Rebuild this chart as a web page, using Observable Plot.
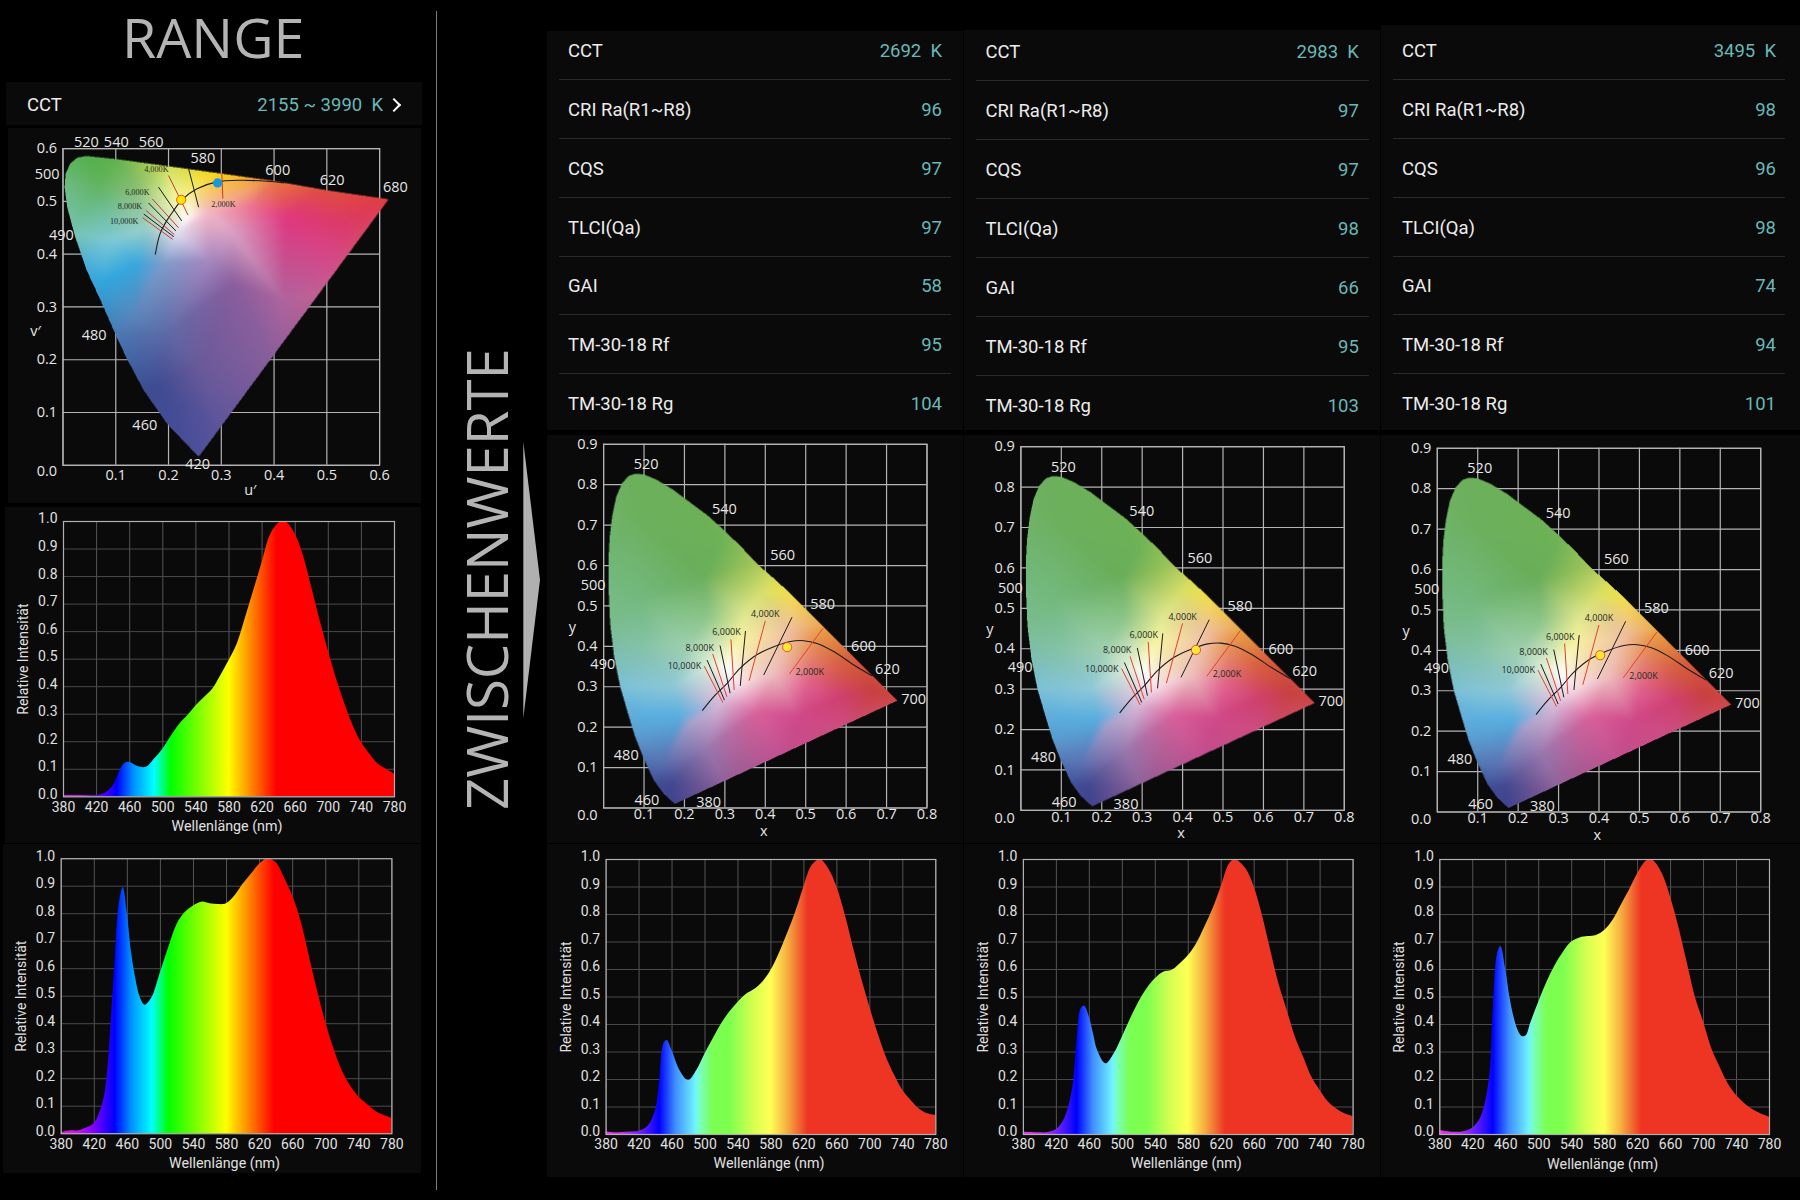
<!DOCTYPE html>
<html><head><meta charset="utf-8">
<script src="https://cdn.jsdelivr.net/npm/d3@7"></script>
<script src="https://cdn.jsdelivr.net/npm/@observablehq/plot@0.6"></script>
<style>
html,body{margin:0;padding:0;background:#000;}
#page{position:relative;width:1800px;height:1200px;overflow:hidden;background:#000;font-family:Roboto,sans-serif;}
.panel{position:absolute;background:#0a0a0a;}
.abs{position:absolute;white-space:pre;line-height:1.2;}
.lab{color:#ececec;font-size:18.5px;transform:translateY(-50%);}
.val{color:#69b7b7;font-size:18.5px;transform:translateY(-50%);text-align:right;}
.sep{position:absolute;height:1px;background:#2a2a2a;}
.head{color:#b4b4b4;font-family:"Open Sans",sans-serif;font-weight:400;}
svg{overflow:visible;}
</style></head><body><div id="page"></div>
<script>
// ---------- table data
const rowLabels=["CCT","CRI Ra(R1~R8)","CQS","TLCI(Qa)","GAI","TM-30-18 Rf","TM-30-18 Rg"];
const col1Values=["2692  K","96","97","97","58","95","104"];
const col2Values=["2983  K","97","97","98","66","95","103"];
const col3Values=["3495  K","98","96","98","74","94","101"];
const rangeLabel="CCT", rangeValue="2155 ~ 3990  K";

// ---------- spectra [nm, relative intensity]
const specRange1=[[380,.005],[400,.005],[420,.005],[430,.012],[440,.04],[450,.105],[455,.123],[460,.125],[470,.11],[480,.107],[490,.137],[500,.173],[510,.219],[520,.262],[530,.294],[540,.33],[550,.36],[560,.39],[570,.44],[580,.494],[590,.555],[600,.65],[610,.75],[620,.85],[630,.95],[640,.994],[645,1],[650,.996],[660,.954],[670,.875],[680,.76],[690,.64],[700,.53],[710,.427],[720,.337],[730,.258],[740,.197],[750,.155],[760,.119],[770,.10],[780,.082]];
const specRange2=[[380,.004],[390,.01],[400,.01],[410,.02],[420,.036],[430,.107],[435,.19],[440,.385],[445,.62],[450,.83],[455,.895],[460,.80],[465,.66],[470,.567],[475,.50],[480,.47],[482,.467],[490,.495],[500,.585],[510,.676],[520,.76],[530,.804],[540,.828],[550,.842],[560,.836],[570,.833],[580,.836],[590,.864],[600,.907],[610,.943],[620,.98],[630,1],[640,.985],[650,.93],[660,.864],[670,.773],[680,.646],[690,.519],[700,.404],[710,.307],[720,.228],[730,.173],[740,.133],[750,.107],[760,.082],[770,.067],[780,.056]];
const specCol1=[[380,.01],[390,.006],[400,.007],[410,.009],[420,.012],[430,.027],[440,.087],[445,.196],[450,.33],[454,.342],[460,.305],[470,.23],[480,.196],[490,.233],[500,.293],[510,.348],[520,.402],[530,.445],[540,.48],[550,.509],[560,.527],[570,.554],[580,.596],[590,.657],[600,.73],[610,.808],[620,.9],[630,.978],[640,.999],[650,.966],[660,.9],[670,.80],[680,.68],[690,.566],[700,.463],[710,.366],[720,.281],[730,.215],[740,.16],[750,.124],[760,.093],[770,.075],[780,.069]];
const specCol2=[[380,.008],[390,.007],[400,.006],[410,.007],[420,.017],[430,.057],[440,.172],[445,.34],[450,.457],[454,.467],[460,.427],[465,.366],[470,.305],[480,.257],[490,.293],[500,.354],[510,.42],[520,.481],[530,.53],[540,.566],[550,.59],[560,.596],[570,.62],[580,.65],[590,.693],[600,.754],[610,.82],[620,.90],[630,.984],[637,1],[640,.996],[650,.966],[660,.90],[670,.796],[680,.67],[690,.548],[700,.451],[710,.354],[720,.281],[730,.208],[740,.16],[750,.118],[760,.093],[770,.075],[780,.065]];
const specCol3=[[380,.015],[390,.01],[400,.008],[410,.011],[420,.024],[430,.063],[440,.196],[445,.463],[450,.657],[454,.684],[460,.60],[465,.50],[470,.427],[475,.378],[480,.356],[485,.36],[490,.402],[500,.481],[510,.554],[520,.615],[530,.663],[540,.70],[550,.715],[560,.72],[570,.724],[580,.742],[590,.778],[600,.833],[610,.888],[620,.948],[630,.993],[635,1],[640,.994],[650,.948],[660,.863],[670,.754],[680,.627],[690,.50],[700,.409],[710,.312],[720,.245],[730,.184],[740,.142],[750,.112],[760,.09],[770,.075],[780,.063]];
const nmTicks=[380,420,460,500,540,580,620,660,700,740,780];
const intensityTicks=[0,.1,.2,.3,.4,.5,.6,.7,.8,.9,1];
const vividStops=[[380,"#f010f0"],[400,"#d010f0"],[420,"#8000ff"],[432,"#4000ff"],[445,"#0000ff"],[465,"#0090ff"],[490,"#00ffff"],[510,"#00ff00"],[580,"#ffff00"],[638,"#ff0000"],[780,"#ff0000"]];
const softStops=[[380,"#f030f0"],[400,"#d030f0"],[420,"#7a20ff"],[435,"#3010ff"],[445,"#0000ff"],[465,"#4090ff"],[489,"#70f5ff"],[494,"#78ffc0"],[510,"#7bff50"],[530,"#7cff4f"],[560,"#d8ff50"],[580,"#ffff55"],[600,"#f5b040"],[625,"#ee3524"],[780,"#ee3524"]];

// ---------- CIE 1976 u'v'
const uvGamut=[[.257,.016],[.197,.079],[.153,.142],[.121,.202],[.099,.249],[.071,.313],[.045,.369],[.023,.433],[.008,.489],[.003,.527],[.005,.553],[.014,.572],[.027,.583],[.044,.586],[.102,.580],[.197,.567],[.298,.553],[.399,.539],[.500,.521],[.617,.504]];
const uvColors=[
 [.257,.0,"#4b4f9c"],[.15,.14,"#3c4f90"],[.095,.25,"#4a7ab4"],[.04,.369,"#42aadc"],[.015,.44,"#74c4b4"],[-.005,.527,"#6fbc8a"],[.005,.58,"#5cb55e"],[.044,.6,"#4fae48"],[.102,.59,"#5fb248"],[.197,.58,"#c8dc50"],[.298,.565,"#fcd000"],[.399,.55,"#ec8030"],[.5,.53,"#e0503a"],[.63,.51,"#e23c40"],[.5,.33,"#c8608f"],[.4,.2,"#8a5f9c"],[.3,.07,"#5f559c"],
 [.071,.54,"#60b35a"],[.14,.52,"#8cc078"],[.16,.45,"#9cd0c8"],[.09,.426,"#7ec9d6"],[.14,.382,"#38a8df"],[.071,.344,"#2fa6dd"],[.134,.281,"#5b86bb"],[.178,.148,"#3f4b92"],[.26,.186,"#6a5a9a"],[.2,.25,"#5f6aa6"],[.28,.39,"#a888c0"],[.323,.344,"#8a5e9e"],[.418,.313,"#b0649e"],[.424,.47,"#e0387f"],[.54,.46,"#dc3a66"],[.513,.388,"#d44a8a"],[.235,.47,"#ffffff"],[.216,.439,"#e0e0f0"],[.19,.382,"#7f9ccc"],[.323,.439,"#d8a0c4"],[.273,.477,"#f4b8c8"],[.36,.49,"#ec7090"],[.36,.525,"#f2a060"],[.25,.53,"#f4e860"],[.21,.508,"#f2f5a0"]];
const uvLocus=[[.175,.40],[.184,.439],[.197,.464],[.21,.483],[.225,.503],[.254,.524],[.292,.537],[.336,.54],[.387,.538],[.418,.535]];
const uvIso=[[.238,.562,.257,.489,"#1a1a1a"],[.301,.553,.303,.505,"#d0382a"],[.200,.549,.237,.474,"#d0382a"],[.181,.527,.225,.463,"#1a1a1a"],[.169,.505,.219,.450,"#d0382a"],[.162,.497,.214,.444,"#1a1a1a"],[.157,.483,.211,.437,"#d0382a"],[.153,.476,.210,.433,"#1a1a1a"],[.151,.469,.208,.428,"#d0382a"]];
const uvWave=[["520",.0442,.611],["540",.101,.611],["560",.167,.611],["580",.265,.582],["600",.407,.559],["620",.51,.54],["680",.63,.526],["500",-.03,.551],["490",-.003,.435],["480",.059,.246],["460",.155,.076],["420",.255,.002]];
const uvIsoLabels=[["4,000K",.177,.560],["6,000K",.141,.518],["8,000K",.127,.491],["10,000K",.116,.463],["2,000K",.304,.495]];
const uvDots=[[.224,.503,"#ffe600","#d83a20"],[.293,.535,"#129ade","none"]];
const uvTicks=[0,.1,.2,.3,.4,.5,.6];

// ---------- CIE 1931 xy
const xyGamut=[[.176,.0099],[.148,.036],[.124,.069],[.099,.123],[.078,.176],[.058,.242],[.041,.300],[.026,.374],[.016,.457],[.012,.548],[.012,.614],[.015,.671],[.021,.721],[.031,.770],[.045,.803],[.062,.822],[.078,.827],[.099,.826],[.132,.812],[.173,.787],[.214,.756],[.256,.725],[.297,.688],[.338,.649],[.379,.605],[.421,.568],[.462,.531],[.503,.490],[.544,.449],[.586,.407],[.627,.366],[.668,.325],[.727,.266]];
const xyColors=[
 [.18,-.01,"#45408f"],[.11,.06,"#3f5099"],[.068,.176,"#5a9cd0"],[.03,.30,"#7cc0d8"],[.005,.457,"#7bbd90"],[.0,.614,"#71b878"],[.02,.78,"#6fb262"],[.078,.845,"#6cb05c"],[.18,.80,"#6cb058"],[.31,.70,"#78b655"],[.39,.615,"#a8c858"],[.43,.58,"#dcdc50"],[.47,.54,"#f4e040"],[.555,.46,"#eca840"],[.64,.38,"#d85a3e"],[.75,.27,"#d04a44"],[.6,.19,"#cc4f80"],[.45,.12,"#c04f8f"],[.3,.05,"#8f5f98"],
 [.074,.729,"#6db05f"],[.289,.65,"#6cb257"],[.25,.58,"#6aae5a"],[.091,.523,"#73b97d"],[.256,.473,"#8dc68a"],[.39,.53,"#d8e070"],[.35,.48,"#e0e890"],[.338,.42,"#f8f4a0"],[.305,.341,"#ffffff"],[.272,.358,"#e8f2d8"],[.206,.399,"#a0d0b0"],[.091,.399,"#84c2a8"],[.173,.30,"#8ec8d8"],[.091,.234,"#5cb0e0"],[.19,.226,"#58aee0"],[.148,.111,"#5a70b0"],[.165,.061,"#41488f"],[.256,.144,"#9878ae"],[.214,.21,"#a8a0cc"],[.289,.259,"#d8b8d8"],[.338,.111,"#a85f96"],[.379,.234,"#d8609a"],[.487,.226,"#d04888"],[.586,.275,"#d04070"],[.668,.292,"#c84040"],[.586,.358,"#d86040"],[.52,.424,"#e89850"],[.462,.44,"#f0c0a0"],[.421,.333,"#eec0c0"],[.503,.30,"#e06090"],[.338,.308,"#f8e0e8"]];
const xyLocus=[[.245,.242],[.272,.275],[.305,.308],[.338,.346],[.379,.379],[.421,.399],[.462,.412],[.495,.414],[.528,.407],[.569,.387],[.619,.354],[.664,.327]];
const xyIso=[[.543,.445,.460,.332,"#e0402a"],[.466,.472,.396,.329,"#1a1a1a"],[.400,.463,.360,.315,"#e0402a"],[.351,.438,.338,.302,"#1a1a1a"],[.315,.417,.323,.292,"#e0402a"],[.288,.402,.313,.284,"#1a1a1a"],[.270,.381,.305,.275,"#e0402a"],[.256,.366,.299,.267,"#1a1a1a"],[.249,.351,.295,.261,"#e0402a"]];
const xyWave=[["520",.105,.850],["540",.299,.739],["560",.443,.624],["580",.542,.504],["600",.643,.399],["620",.702,.343],["700",.767,.27],["500",-.026,.55],["490",-.002,.355],["480",.056,.131],["460",.107,.02],["380",.26,.014]];
const xyIsoLabels=[["4,000K",.400,.479],["6,000K",.304,.434],["8,000K",.238,.396],["10,000K",.20,.35],["2,000K",.51,.336]];
const col1Point=[.454,.398], col2Point=[.433,.397], col3Point=[.403,.388];
const xTicks=[0,.1,.2,.3,.4,.5,.6,.7,.8], yTicks=[0,.1,.2,.3,.4,.5,.6,.7,.8,.9];

// ---------- helpers
const page=document.getElementById("page");
function el(cls,css,text){const d=document.createElement("div");d.className=cls;Object.assign(d.style,css);if(text!=null)d.textContent=text;page.appendChild(d);return d;}
function panel(x0,y0,x1,y1){return el("panel",{left:x0+"px",top:y0+"px",width:(x1-x0)+"px",height:(y1-y0)+"px"});}
function place(node,p){node.style.position="absolute";node.style.left=p[0]+"px";node.style.top=p[1]+"px";page.appendChild(node);}
let gradId=0;
function spectrum(data,stops,p,f){
  panel(...p);
  const id="spec"+(++gradId);
  const defs=()=>{const s=d3.create("svg:defs");const g=s.append("linearGradient").attr("id",id).attr("x1",0).attr("x2",1).attr("y1",0).attr("y2",0);
    for(const [nm,c] of stops) g.append("stop").attr("offset",(nm-380)/400).attr("stop-color",c);return s.node();};
  const chart=Plot.plot({width:p[2]-p[0],height:p[3]-p[1],marginLeft:f[0]-p[0],marginTop:f[1]-p[1],marginRight:p[2]-f[2],marginBottom:p[3]-f[3],
    x:{domain:[380,780],label:null},y:{domain:[0,1],label:null},
    style:{fontFamily:"Roboto",fontSize:"14px",background:"transparent",color:"#e0e0e0"},
    marks:[defs,
      Plot.gridX(nmTicks,{stroke:"#555",strokeOpacity:1,strokeWidth:1}),
      Plot.gridY(intensityTicks,{stroke:"#4a4a4a",strokeOpacity:1,strokeWidth:1}),
      Plot.areaY(data,{x:d=>d[0],y:d=>d[1],fill:`url(#${id})`,curve:"catmull-rom"}),
      Plot.frame({stroke:"#b0b0b0",strokeWidth:1.2}),
      Plot.axisX({ticks:nmTicks,tickSize:0,tickPadding:5,label:null,tickFormat:d=>d}),
      Plot.axisY({ticks:intensityTicks,tickSize:0,tickPadding:6,label:null,tickFormat:d=>d.toFixed(1),dy:-2.5}),
      Plot.text(["Wellenlänge (nm)"],{frameAnchor:"bottom",dx:-2,dy:34,fontSize:14.3,fill:"#e0e0e0"}),
      Plot.text(["Relative Intensität"],{frameAnchor:"left",textAnchor:"middle",dx:-40,rotate:-90,fontSize:14,fill:"#e0e0e0"})
    ]});
  place(chart,p);
}
function boxBlur(a,W,H,R){
  const out=new Float32Array(a.length),n=2*R+1;
  for(let y=0;y<H;y++){let s=0;
    for(let x=-R;x<=R;x++) s+=a[y*W+Math.min(W-1,Math.max(0,x))];
    for(let x=0;x<W;x++){out[x*H+y]=s/n;
      s+=a[y*W+Math.min(W-1,x+R+1)]-a[y*W+Math.max(0,x-R)];}}
  return out; // transposed
}
// colour field: linear interpolation over a triangulation of the anchors, softly blurred, masked by the gamut
function gamutField(anchors,gamut,rx,ry,W,H){
  const del=d3.Delaunay.from(anchors,d=>d[0],d=>d[1]);
  const rgb=anchors.map(a=>d3.rgb(a[2]));
  const chan=[new Float32Array(W*H),new Float32Array(W*H),new Float32Array(W*H)],done=new Uint8Array(W*H);
  const cx=k=>rx[0]+(k+.5)/W*(rx[1]-rx[0]),cy=j=>ry[1]-(j+.5)/H*(ry[1]-ry[0]);
  const t=del.triangles;
  for(let n=0;n<t.length;n+=3){
    const [a,b,c]=[anchors[t[n]],anchors[t[n+1]],anchors[t[n+2]]],[ca,cb,cc]=[rgb[t[n]],rgb[t[n+1]],rgb[t[n+2]]];
    const den=(b[1]-c[1])*(a[0]-c[0])+(c[0]-b[0])*(a[1]-c[1]);
    const k0=Math.max(0,Math.floor((Math.min(a[0],b[0],c[0])-rx[0])/(rx[1]-rx[0])*W)),k1=Math.min(W-1,Math.ceil((Math.max(a[0],b[0],c[0])-rx[0])/(rx[1]-rx[0])*W));
    const j0=Math.max(0,Math.floor((ry[1]-Math.max(a[1],b[1],c[1]))/(ry[1]-ry[0])*H)),j1=Math.min(H-1,Math.ceil((ry[1]-Math.min(a[1],b[1],c[1]))/(ry[1]-ry[0])*H));
    for(let j=j0;j<=j1;j++){const y=cy(j);for(let k=k0;k<=k1;k++){const x=cx(k);
      const l1=((b[1]-c[1])*(x-c[0])+(c[0]-b[0])*(y-c[1]))/den,l2=((c[1]-a[1])*(x-c[0])+(a[0]-c[0])*(y-c[1]))/den,l3=1-l1-l2;
      if(l1<-1e-6||l2<-1e-6||l3<-1e-6) continue;
      const i=j*W+k;done[i]=1;
      chan[0][i]=l1*ca.r+l2*cb.r+l3*cc.r;chan[1][i]=l1*ca.g+l2*cb.g+l3*cc.g;chan[2][i]=l1*ca.b+l2*cb.b+l3*cc.b;}}
  }
  for(let j=0,i=0;j<H;j++)for(let k=0;k<W;k++,i++) if(!done[i]){const q=rgb[del.find(cx(k),cy(j))];chan[0][i]=q.r;chan[1][i]=q.g;chan[2][i]=q.b;}
  const R=7;
  const soft=chan.map(c=>{let f=boxBlur(c,W,H,R);f=boxBlur(f,H,W,R);return f;});
  const cells=new Array(W*H);
  for(let j=0,i=0;j<H;j++)for(let k=0;k<W;k++,i++)
    cells[i]=d3.polygonContains(gamut,[cx(k),cy(j)])?`rgb(${soft[0][i]|0},${soft[1][i]|0},${soft[2][i]|0})`:null;
  return cells;
}
function cie(o){
  panel(...o.p);
  const p=o.p,f=o.f;
  const xmin=o.xd[0],ymin=o.yd[0];
  const rx=[o.xd[0],o.rxMax],ry=o.yd;
  const W=Math.round((f[2]-f[0])*2*(rx[1]-rx[0])/(o.xd[1]-o.xd[0])),H=Math.round((f[3]-f[1])*2);
  const cells=gamutField(o.colors,o.gamut,rx,ry,W,H);
  const chart=Plot.plot({width:p[2]-p[0],height:p[3]-p[1],marginLeft:f[0]-p[0],marginTop:f[1]-p[1],marginRight:p[2]-f[2],marginBottom:p[3]-f[3],
    x:{domain:o.xd,label:null},y:{domain:o.yd,label:null},color:{type:"identity"},
    style:{fontFamily:"Open Sans",fontSize:"14.5px",background:"transparent",color:"#e6e6e6"},
    marks:[
      Plot.gridX(o.xt,{stroke:"#b4b4b4",strokeOpacity:1,strokeWidth:1.2}),
      Plot.gridY(o.yt,{stroke:"#b4b4b4",strokeOpacity:1,strokeWidth:1.2}),
      Plot.frame({stroke:"#b4b4b4",strokeWidth:1.2}),
      Plot.raster(cells,{width:W,height:H,x1:rx[0],x2:rx[1],y1:ry[1],y2:ry[0],fill:d=>d,imageRendering:"auto",clip:false}),
      Plot.line(o.locus,{x:d=>d[0],y:d=>d[1],stroke:"#1c1c1c",strokeWidth:1.1,curve:"catmull-rom"}),
      Plot.link(o.iso,{x1:d=>d[0],y1:d=>d[1],x2:d=>d[2],y2:d=>d[3],stroke:d=>d[4],strokeWidth:1}),
      Plot.dot(o.dots,{x:d=>d[0],y:d=>d[1],fill:d=>d[2],stroke:d=>d[3],r:4.6,strokeWidth:.8}),
      Plot.axisX({ticks:o.xt.filter(d=>d>0),tickSize:0,tickPadding:o.xpad,label:null,tickFormat:d=>d.toFixed(1)}),
      Plot.axisY({ticks:o.yt.filter(d=>d>0),tickSize:0,tickPadding:6,label:null,tickFormat:d=>d.toFixed(1)}),
      Plot.text(["0.0"],{x:()=>xmin,y:()=>ymin,dx:-6,dy:o.zeroDy,textAnchor:"end",fill:"#e6e6e6"}),
      Plot.text(o.wave,{x:d=>d[1],y:d=>d[2],text:d=>d[0],fill:"#e6e6e6"}),
      Plot.text(o.isoLabels,{x:d=>d[1],y:d=>d[2],text:d=>d[0],fill:"#1e2a1e",fontSize:o.isoSize,fontFamily:o.isoFont}),
      Plot.text([o.xTitle],{x:d=>d[1],y:d=>d[2],text:d=>d[0],fill:"#e6e6e6"}),
      Plot.text([o.yTitle],{x:d=>d[1],y:d=>d[2],text:d=>d[0],fill:"#e6e6e6"})
    ]});
  place(chart,p);
}
function table(values,t){
  panel(t.px0,t.top,t.px1,430);
  rowLabels.forEach((lab,i)=>{
    const y=t.y0+i*58.85;
    el("abs lab",{left:t.tx+"px",top:y+"px"},lab);
    el("abs val",{right:(1800-t.vx)+"px",top:y+"px"},values[i]);
    if(i<6) el("sep",{left:t.s0+"px",width:(t.s1-t.s0)+"px",top:(y+28)+"px"});
  });
}

// ---------- headings and left column
el("abs head",{left:"122px",top:"4px",fontSize:"55.5px"},"RANGE");
el("",{position:"absolute",left:"436px",top:"11px",width:"1px",height:"1179px",background:"#7a7a7a"});
panel(6,82,421.7,125);
el("abs lab",{left:"27px",top:"105px"},rangeLabel);
el("abs val",{right:(1800-383)+"px",top:"105px"},rangeValue);
el("",{position:"absolute",left:"389px",top:"100px",width:"8px",height:"8px",borderTop:"2px solid #fff",borderRight:"2px solid #fff",transform:"rotate(45deg)"});
cie({p:[7.7,127.7,421,503.3],f:[62.2,147.8,378.8,464.5],xd:[0,.6],yd:[0,.6],rxMax:.63,xt:uvTicks,yt:uvTicks,gamut:uvGamut,colors:uvColors,locus:uvLocus,iso:uvIso,wave:uvWave,isoLabels:uvIsoLabels,dots:uvDots,isoSize:8.2,isoFont:"Liberation Serif",xpad:4,zeroDy:5.7,xTitle:["u′",.355,-.047],yTitle:["v′",-.052,.253]});
spectrum(specRange1,vividStops,[5,506.7,420.7,842.7],[63,520.7,394,796]);
spectrum(specRange2,vividStops,[3.3,843.5,421,1173],[61,857.7,391.7,1132.7]);

// ---------- divider heading and arrow
el("abs head",{left:"521px",top:"810px",fontSize:"56.3px",transformOrigin:"0 0",transform:"rotate(-90deg) translateY(-100%)"},"ZWISCHENWERTE");
el("",{position:"absolute",left:"523.3px",top:"441.7px",width:"16.7px",height:"276.6px",background:"#b0b0b0",clipPath:"polygon(0 0,100% 50%,0 100%)"});

// ---------- three intermediate columns
[[col1Values,specCol1,col1Point,0,0,963.3,0],[col2Values,specCol2,col2Point,417.4,2.4,1380,1.4],[col3Values,specCol3,col3Point,834,4,1800,0]].forEach(([vals,spec,pt,dx,dy,right,ty],i)=>{
  const left=i==0?546.7:i==1?963.8:1381;
  table(vals,{px0:left,px1:right,top:i==0?31:i==1?30:25,y0:51+ty,tx:568+dx,vx:942+dx+(i==1?-.5:0),s0:558.8+dx,s1:951.4+dx});
  cie({p:[left,435,right,843.3],f:[602.8+dx,443.8+dy,926.2+dx,807.5+dy],xd:[0,.8],yd:[0,.9],rxMax:.8,xt:xTicks,yt:yTicks,gamut:xyGamut,colors:xyColors,locus:xyLocus,iso:xyIso,wave:xyWave,isoLabels:xyIsoLabels,dots:[[pt[0],pt[1],"#ffe830","#d83a20"]],isoSize:9,isoFont:"Open Sans",xpad:1,zeroDy:7.7,xTitle:["x",.396,-.057],yTitle:["y",-.077,.447]});
  spectrum(spec,softStops,[left,844,right,1177],[605.3+dx,859,935+dx,1134]);
});
</script></body></html>
